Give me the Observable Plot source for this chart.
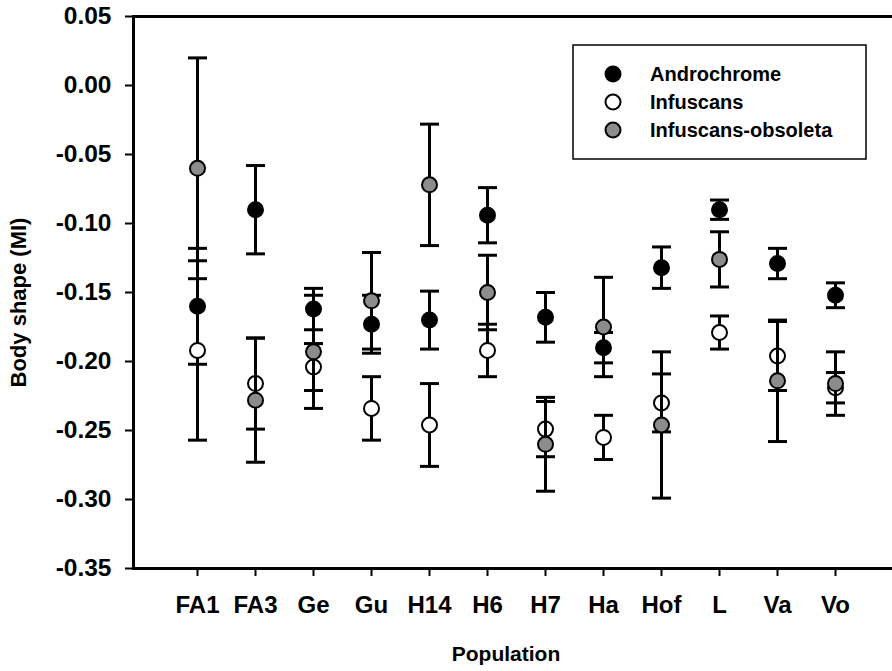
<!DOCTYPE html>
<html><head><meta charset="utf-8">
<script src="https://cdn.jsdelivr.net/npm/d3@7"></script>
<script src="https://cdn.jsdelivr.net/npm/@observablehq/plot@0.6"></script>
<style>
html,body{margin:0;padding:0;background:#fff;overflow:hidden;}
#chart{position:relative;width:892px;height:671px;}
</style></head><body><div id="chart"></div>
<script>
// ---- data ----
const populations = ["FA1","FA3","Ge","Gu","H14","H6","H7","Ha","Hof","L","Va","Vo"];
const seriesNames = ["Androchrome","Infuscans","Infuscans-obsoleta"];
const seriesFills = ["#000000","#ffffff","#8c8c8c"];
const androMean = [-0.160,-0.090,-0.162,-0.173,-0.170,-0.094,-0.168,-0.190,-0.132,-0.090,-0.129,-0.152];
const androErr  = [0.042,0.032,0.015,0.021,0.021,0.020,0.018,0.011,0.015,0.007,0.011,0.009];
const infusMean = [-0.192,-0.216,-0.204,-0.234,-0.246,-0.192,-0.249,-0.255,-0.230,-0.179,-0.196,-0.219];
const infusErr  = [0.065,0.033,0.017,0.023,0.030,0.019,0.020,0.016,0.021,0.012,0.025,0.011];
const obsMean   = [-0.060,-0.228,-0.193,-0.156,-0.072,-0.150,-0.260,-0.175,-0.246,-0.126,-0.214,-0.216];
const obsErr    = [0.080,0.045,0.041,0.035,0.044,0.027,0.034,0.036,0.053,0.020,0.044,0.023];
const yTicks = [0.05,0.00,-0.05,-0.10,-0.15,-0.20,-0.25,-0.30,-0.35];
const yLabel = "Body shape (MI)";
const xLabel = "Population";

const means = [androMean, infusMean, obsMean];
const errs = [androErr, infusErr, obsErr];
const seriesRows = seriesNames.map((s, k) => populations.map((p, i) => ({
  series: s, pop: p, mean: means[k][i], lo: means[k][i] - errs[k][i], hi: means[k][i] + errs[k][i]
})));

const capSymbol = {draw(ctx, size) { const r = Math.sqrt(size / Math.PI); ctx.moveTo(-r, 0); ctx.lineTo(r, 0); }};

const marks = [Plot.frame({stroke: "black", strokeWidth: 3})];
seriesRows.forEach((rows, k) => {
  marks.push(Plot.ruleX(rows, {x: "pop", y1: "lo", y2: "hi", stroke: "black", strokeWidth: 3}));
  marks.push(Plot.dot(rows, {x: "pop", y: "hi", symbol: capSymbol, r: 9.5, stroke: "black", strokeWidth: 3, fill: "none"}));
  marks.push(Plot.dot(rows, {x: "pop", y: "lo", symbol: capSymbol, r: 9.5, stroke: "black", strokeWidth: 3, fill: "none"}));
  marks.push(Plot.dot(rows, {x: "pop", y: "mean", r: 7.5, fill: seriesFills[k], stroke: "black", strokeWidth: 2}));
});
marks.push(Plot.axisX({tickSize: 8, tickPadding: 19, fontSize: 24, strokeWidth: 2, label: null}));
marks.push(Plot.axisY({ticks: yTicks, tickFormat: d => d.toFixed(2), tickSize: 8, tickPadding: 14, fontSize: 24.5, strokeWidth: 2, label: null}));
marks.push(Plot.text([yLabel], {frameAnchor: "left", rotate: -90, dx: -115, dy: 10, fontSize: 22, textAnchor: "middle", lineAnchor: "middle", fill: "black"}));
marks.push(Plot.text([xLabel], {frameAnchor: "bottom", dx: -13, dy: 86, fontSize: 21, textAnchor: "middle", lineAnchor: "middle", fill: "black"}));

const chart = Plot.plot({
  width: 892, height: 671,
  marginTop: 16, marginBottom: 103, marginLeft: 133, marginRight: -12,
  style: {fontFamily: "'Liberation Sans', Arial, sans-serif", fontWeight: "bold", color: "black", background: "white", overflow: "hidden", maxWidth: "none"},
  x: {type: "point", domain: populations, range: [133, 899], padding: 1},
  y: {domain: [-0.35, 0.05], range: [568, 16]},
  marks
});
document.getElementById("chart").appendChild(chart);

// legend
const svg = d3.select(chart);
const lg = svg.append("g").attr("text-anchor", "start");
lg.append("rect").attr("x", 573).attr("y", 45).attr("width", 293).attr("height", 114)
  .attr("fill", "white").attr("stroke", "black").attr("stroke-width", 1.5);
seriesNames.forEach((name, k) => {
  lg.append("circle").attr("cx", 613).attr("cy", 74 + 28 * k).attr("r", 7.5)
    .attr("fill", seriesFills[k]).attr("stroke", "black").attr("stroke-width", 2);
  lg.append("text").attr("x", 650).attr("y", 81 + 28 * k).attr("font-size", 20)
    .attr("font-weight", "bold").attr("text-anchor", "start").attr("fill", "black").text(name);
});
</script></body></html>
